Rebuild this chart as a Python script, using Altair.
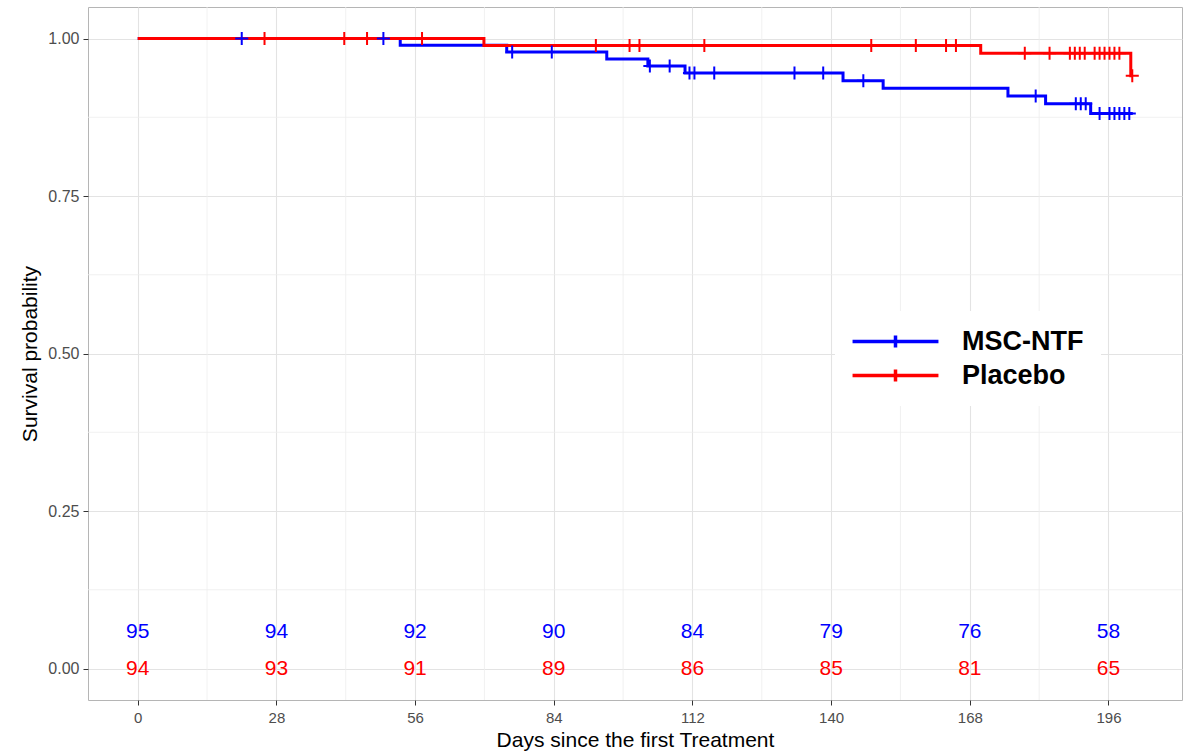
import altair as alt
import pandas as pd

groups = ["MSC-NTF", "Placebo"]
colors = ["#0000FF", "#FF0000"]

# Kaplan-Meier step curves (event times and survival after the event)
msc_time = [0, 53.0, 74.5, 94.7, 103.0, 110.5, 142.4, 150.5, 175.7, 183.3, 192.4, 200.9]
msc_surv = [1.0, 0.9892, 0.9785, 0.9675, 0.9564, 0.9451, 0.9331, 0.9210, 0.9087, 0.8963, 0.8809, 0.8809]
pla_time = [0, 69.9, 170.2, 200.5, 200.9]
pla_surv = [1.0, 0.9889, 0.9765, 0.9410, 0.9410]

# censoring times
msc_cens = [21.0, 49.6, 75.6, 83.6, 103.4, 107.4, 111.4, 112.4, 116.4, 132.6, 138.4, 146.5,
            181.3, 189.4, 190.4, 191.4, 194.2, 196.2, 197.2, 198.2, 199.2, 200.2]
pla_cens = [25.6, 41.7, 46.3, 57.4, 92.5, 99.3, 101.3, 114.4, 148.1, 157.1, 163.2, 165.2,
            179.1, 184.1, 188.2, 189.2, 190.2, 191.2, 193.2, 194.2, 195.2, 196.2, 197.2, 198.2, 200.8]

# numbers at risk
risk_days = [0, 28, 56, 84, 112, 140, 168, 196]
risk_msc = [95, 94, 92, 90, 84, 79, 76, 58]
risk_pla = [94, 93, 91, 89, 86, 85, 81, 65]
risk_row = {"MSC-NTF": 0.0576, "Placebo": 0.0}

x_ticks = [0, 28, 56, 84, 112, 140, 168, 196]
x_minor = [14, 42, 70, 98, 126, 154, 182]
y_ticks = [0.0, 0.25, 0.5, 0.75, 1.0]
y_minor = [0.125, 0.375, 0.625, 0.875]


def step_value(times, survs, t):
    v = survs[0]
    for ti, si in zip(times, survs):
        if ti <= t:
            v = si
    return v


curves = pd.concat([
    pd.DataFrame({"time": msc_time, "surv": msc_surv, "group": "MSC-NTF"}),
    pd.DataFrame({"time": pla_time, "surv": pla_surv, "group": "Placebo"}),
])
cens = pd.concat([
    pd.DataFrame({"time": msc_cens, "surv": [step_value(msc_time, msc_surv, t) for t in msc_cens], "group": "MSC-NTF"}),
    pd.DataFrame({"time": pla_cens, "surv": [step_value(pla_time, pla_surv, t) for t in pla_cens], "group": "Placebo"}),
])
risk = pd.concat([
    pd.DataFrame({"time": risk_days, "surv": risk_row["MSC-NTF"], "n": risk_msc, "group": "MSC-NTF"}),
    pd.DataFrame({"time": risk_days, "surv": risk_row["Placebo"], "n": risk_pla, "group": "Placebo"}),
])
minor_x_df = pd.DataFrame({"time": x_minor})
minor_y_df = pd.DataFrame({"surv": y_minor})

FONT = "Liberation Sans"
XT = "Days since the first Treatment"
YT = "Survival probability"
xscale = alt.Scale(domain=[-10.04, 210.84], nice=False, zero=False)
yscale = alt.Scale(domain=[-0.05, 1.05], nice=False, zero=False)
cscale = alt.Scale(domain=groups, range=colors)

x_axis = alt.Axis(values=x_ticks, labelFont=FONT, labelFontSize=15, labelColor="#4D4D4D",
                  tickColor="#333333", tickSize=5, labelPadding=5,
                  titleFont=FONT, titleFontSize=21, titleFontWeight="normal",
                  titleColor="black", titlePadding=4,
                  grid=True, gridColor="#E3E3E3", gridWidth=1.1, domain=False)
y_axis = alt.Axis(values=y_ticks, format=".2f", labelFont=FONT, labelFontSize=16,
                  labelColor="#4D4D4D", tickColor="#333333", tickSize=5, labelPadding=4,
                  titleFont=FONT, titleFontSize=21, titleFontWeight="normal",
                  titleColor="black", titlePadding=7,
                  grid=True, gridColor="#E3E3E3", gridWidth=1.1, domain=False)

X = alt.X("time:Q", scale=xscale, axis=x_axis, title=XT)
Y = alt.Y("surv:Q", scale=yscale, axis=y_axis, title=YT)

legend = alt.Legend(
    title=None, orient="none", legendX=747, legendY=304,
    symbolType="M-6,0L6,0M0,-0.85L0,0.85", symbolSize=205, symbolStrokeWidth=3.5,
    symbolOffset=30, labelOffset=53,
    labelFont=FONT, labelFontSize=27, labelFontWeight="bold", labelColor="black",
    fillColor="white", padding=17, rowPadding=6, labelLimit=300,
)

minor_x = alt.Chart(minor_x_df).mark_rule(color="#EEEEEE", strokeWidth=0.8).encode(x=X)
minor_y = alt.Chart(minor_y_df).mark_rule(color="#EEEEEE", strokeWidth=0.8).encode(y=Y)

lines = alt.Chart(curves).mark_line(interpolate="step-after", strokeWidth=3).encode(
    x=X, y=Y,
    color=alt.Color("group:N", scale=cscale, legend=legend),
)

points = alt.Chart(cens).mark_point(shape="M-1,0L1,0M0,-1L0,1", size=170, strokeWidth=2,
                                    filled=False, opacity=1).encode(
    x=X, y=Y,
    color=alt.Color("group:N", scale=cscale, legend=legend),
)

texts = alt.Chart(risk).mark_text(font=FONT, fontSize=21, baseline="middle", align="center").encode(
    x=X, y=Y,
    text="n:N",
    color=alt.Color("group:N", scale=cscale, legend=legend),
)

chart = alt.layer(minor_x, minor_y, lines, points, texts).properties(
    width=1094, height=693,
    autosize=alt.AutoSizeParams(type="none"),
    padding={"left": 88, "top": 7, "right": 9, "bottom": 52},
    background="white",
).configure_view(stroke="#B5B5B5", strokeWidth=1)

chart.save("out.html", embed_options={"renderer": "svg", "actions": False})
